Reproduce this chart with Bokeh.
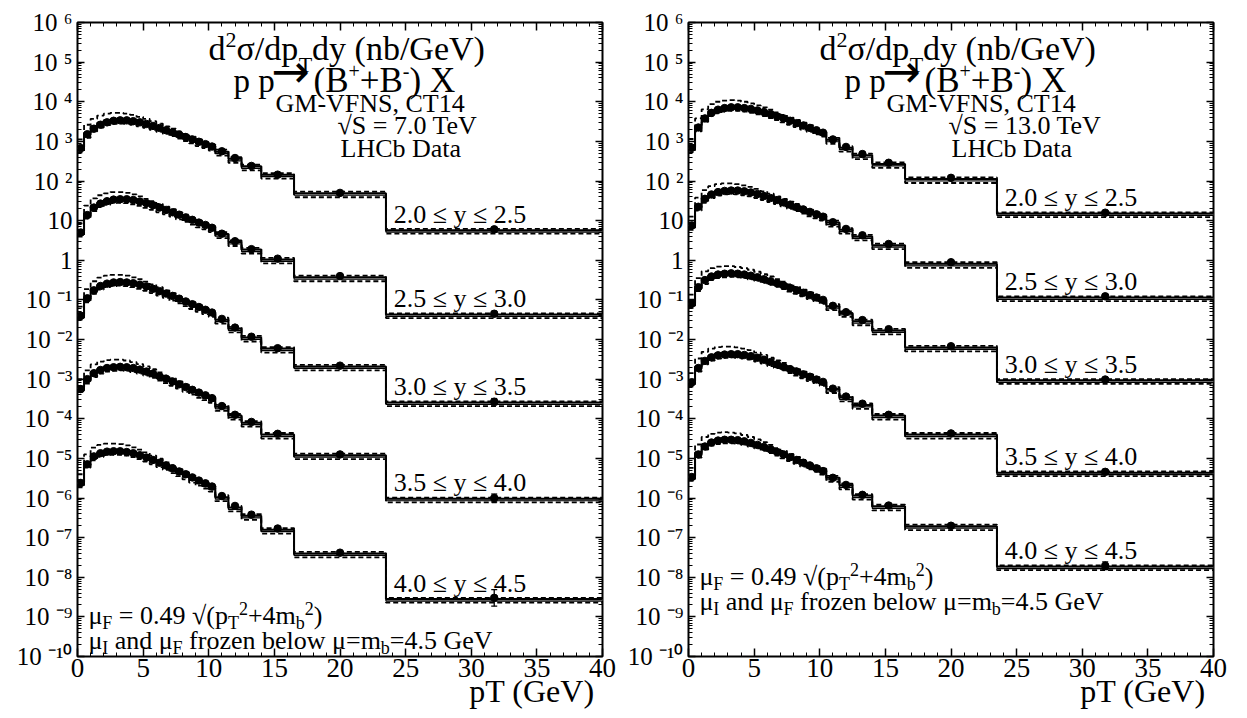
import numpy as np
from bokeh.plotting import figure
from bokeh.layouts import row
from bokeh.models import (FixedTicker, SingleIntervalTicker, LinearAxis, LogAxis, Label,
                          CustomJSTickFormatter, Whisker, TeeHead, ColumnDataSource)
from bokeh.embed import file_html
from bokeh.resources import INLINE

# ---------------- data ----------------
pt_edges = [0.0, 0.5, 1.0, 1.5, 2.0, 2.5, 3.0, 3.5, 4.0, 4.5, 5.0, 5.5, 6.0, 6.5, 7.0, 7.5,
            8.0, 8.5, 9.0, 9.5, 10.0, 10.5, 11.5, 12.5, 14.0, 16.5, 23.5, 40.0]
pt_points = [0.25, 0.75, 1.25, 1.75, 2.25, 2.75, 3.25, 3.75, 4.25, 4.75, 5.25, 5.75, 6.25, 6.75,
             7.25, 7.75, 8.25, 8.75, 9.25, 9.75, 10.25, 11.0, 12.0, 13.25, 15.25, 20.0, 31.75]
y_bins = ["2.0 ≤  y ≤ 2.5", "2.5 ≤  y ≤ 3.0", "3.0 ≤  y ≤ 3.5", "3.5 ≤  y ≤ 4.0", "4.0 ≤  y ≤ 4.5"]

# log10 of d2sigma/dpT dy (nb/GeV), each rapidity bin already offset by 10^-2 steps
th7_y20 = [2.85, 3.22, 3.38, 3.47, 3.53, 3.56, 3.57, 3.56, 3.54, 3.50, 3.46, 3.41, 3.36, 3.30,
           3.24, 3.18, 3.12, 3.06, 2.99, 2.93, 2.87, 2.74, 2.56, 2.37, 2.16, 1.69, 0.76]
th7_y25 = [0.73, 1.18, 1.37, 1.46, 1.52, 1.56, 1.57, 1.56, 1.53, 1.49, 1.44, 1.39, 1.33, 1.27,
           1.21, 1.14, 1.08, 1.01, 0.94, 0.88, 0.81, 0.66, 0.46, 0.27, 0.02, -0.43, -1.37]
th7_y30 = [-1.37, -0.93, -0.72, -0.62, -0.56, -0.53, -0.52, -0.53, -0.56, -0.60, -0.65, -0.71,
           -0.77, -0.84, -0.91, -0.98, -1.05, -1.12, -1.19, -1.26, -1.33, -1.50, -1.72, -1.95,
           -2.23, -2.68, -3.59]
th7_y35 = [-3.20, -2.98, -2.82, -2.74, -2.69, -2.67, -2.66, -2.67, -2.70, -2.74, -2.79, -2.85,
           -2.92, -2.99, -3.06, -3.13, -3.21, -3.28, -3.36, -3.43, -3.50, -3.70, -3.92, -4.10,
           -4.40, -4.92, -6.02]
th7_y40 = [-5.60, -5.10, -4.92, -4.84, -4.80, -4.79, -4.79, -4.81, -4.85, -4.90, -4.96, -5.03,
           -5.10, -5.18, -5.26, -5.34, -5.42, -5.50, -5.58, -5.66, -5.74, -5.98, -6.24, -6.45,
           -6.80, -7.40, -8.55]
dat7_y20 = [2.83, 3.18, 3.32, 3.42, 3.48, 3.52, 3.53, 3.53, 3.51, 3.48, 3.44, 3.39, 3.34, 3.28,
            3.23, 3.17, 3.11, 3.05, 2.99, 2.93, 2.87, 2.75, 2.58, 2.38, 2.16, 1.70, 0.78]
dat7_y25 = [0.70, 1.14, 1.33, 1.43, 1.49, 1.53, 1.54, 1.54, 1.52, 1.48, 1.44, 1.39, 1.33, 1.27,
            1.21, 1.15, 1.08, 1.02, 0.95, 0.89, 0.82, 0.67, 0.48, 0.28, 0.04, -0.40, -1.35]
dat7_y30 = [-1.40, -0.96, -0.76, -0.65, -0.59, -0.56, -0.55, -0.56, -0.58, -0.62, -0.66, -0.72,
            -0.78, -0.84, -0.90, -0.97, -1.04, -1.11, -1.18, -1.25, -1.32, -1.48, -1.70, -1.93,
            -2.22, -2.66, -3.57]
dat7_y35 = [-3.25, -3.00, -2.85, -2.77, -2.72, -2.70, -2.69, -2.70, -2.72, -2.76, -2.81, -2.86,
            -2.93, -2.99, -3.06, -3.13, -3.20, -3.27, -3.34, -3.41, -3.48, -3.68, -3.90, -4.08,
            -4.38, -4.90, -6.00]
dat7_y40 = [-5.62, -5.15, -4.95, -4.87, -4.83, -4.82, -4.82, -4.84, -4.87, -4.92, -4.98, -5.04,
            -5.11, -5.18, -5.25, -5.33, -5.40, -5.48, -5.56, -5.63, -5.71, -5.95, -6.20, -6.42,
            -6.77, -7.38, -8.52]
th13_y20 = [2.86, 3.38, 3.62, 3.76, 3.83, 3.87, 3.89, 3.89, 3.87, 3.84, 3.80, 3.76, 3.71, 3.65,
            3.59, 3.53, 3.47, 3.41, 3.35, 3.28, 3.22, 3.04, 2.84, 2.65, 2.43, 2.05, 1.18]
th13_y25 = [0.90, 1.38, 1.58, 1.69, 1.75, 1.78, 1.79, 1.78, 1.76, 1.73, 1.69, 1.64, 1.59, 1.53,
            1.47, 1.41, 1.35, 1.29, 1.22, 1.16, 1.10, 0.95, 0.77, 0.60, 0.38, -0.09, -0.94]
th13_y30 = [-1.07, -0.65, -0.47, -0.38, -0.33, -0.31, -0.30, -0.31, -0.33, -0.36, -0.40, -0.45,
            -0.50, -0.56, -0.62, -0.68, -0.74, -0.80, -0.87, -0.93, -1.00, -1.16, -1.33, -1.54,
            -1.77, -2.20, -3.03]
th13_y35 = [-3.05, -2.68, -2.50, -2.41, -2.36, -2.34, -2.33, -2.34, -2.36, -2.39, -2.44, -2.49,
            -2.55, -2.61, -2.67, -2.74, -2.80, -2.87, -2.94, -3.00, -3.07, -3.25, -3.46, -3.65,
            -3.92, -4.40, -5.36]
th13_y40 = [-5.44, -4.85, -4.65, -4.56, -4.52, -4.50, -4.50, -4.51, -4.54, -4.58, -4.63, -4.69,
            -4.75, -4.82, -4.89, -4.96, -5.03, -5.10, -5.17, -5.24, -5.31, -5.49, -5.68, -5.94,
            -6.21, -6.71, -7.73]
dat13_y20 = [2.84, 3.35, 3.58, 3.72, 3.80, 3.84, 3.86, 3.86, 3.84, 3.82, 3.78, 3.74, 3.69, 3.63,
             3.58, 3.52, 3.46, 3.40, 3.34, 3.28, 3.22, 3.05, 2.86, 2.68, 2.46, 2.08, 1.20]
dat13_y25 = [0.88, 1.35, 1.55, 1.66, 1.72, 1.75, 1.76, 1.76, 1.74, 1.71, 1.67, 1.62, 1.57, 1.52,
             1.46, 1.40, 1.34, 1.28, 1.22, 1.16, 1.10, 0.96, 0.79, 0.63, 0.41, -0.05, -0.91]
dat13_y30 = [-1.09, -0.68, -0.50, -0.41, -0.36, -0.34, -0.33, -0.34, -0.36, -0.39, -0.43, -0.48,
             -0.53, -0.58, -0.64, -0.70, -0.76, -0.82, -0.88, -0.94, -1.00, -1.15, -1.31, -1.51,
             -1.74, -2.17, -3.01]
dat13_y35 = [-3.08, -2.72, -2.54, -2.45, -2.40, -2.38, -2.37, -2.37, -2.39, -2.42, -2.46, -2.51,
             -2.57, -2.63, -2.69, -2.75, -2.81, -2.88, -2.94, -3.01, -3.07, -3.24, -3.44, -3.62,
             -3.90, -4.37, -5.34]
dat13_y40 = [-5.47, -4.90, -4.70, -4.60, -4.55, -4.53, -4.53, -4.54, -4.57, -4.61, -4.66, -4.71,
             -4.77, -4.84, -4.90, -4.97, -5.04, -5.11, -5.18, -5.25, -5.32, -5.49, -5.67, -5.92,
             -6.19, -6.70, -7.71]

err_dex = [0.06, 0.04, 0.03, 0.03, 0.03, 0.03, 0.03, 0.03, 0.03, 0.03, 0.03, 0.03, 0.03, 0.03,
           0.03, 0.03, 0.03, 0.03, 0.03, 0.03, 0.03, 0.03, 0.03, 0.03, 0.03, 0.04, 0.05]
err7_last = [0.05, 0.06, 0.08, 0.10, 0.21]
err13_last = [0.04, 0.05, 0.05, 0.06, 0.10]
scale_up_dex = [0.20, 0.20, 0.19, 0.18, 0.17, 0.16, 0.15, 0.14, 0.13, 0.12, 0.11, 0.10, 0.09, 0.08,
                0.08, 0.07, 0.07, 0.06, 0.06, 0.05, 0.05, 0.05, 0.04, 0.04, 0.04, 0.04, 0.03]
scale_dn_dex = [0.13, 0.13, 0.13, 0.12, 0.12, 0.12, 0.12, 0.12, 0.12, 0.12, 0.12, 0.12, 0.12, 0.11,
                0.11, 0.11, 0.11, 0.11, 0.11, 0.10, 0.10, 0.10, 0.10, 0.10, 0.10, 0.10, 0.09]
pdf_dn_dex = [0.05, 0.05, 0.05, 0.05, 0.05, 0.05, 0.05, 0.05, 0.05, 0.05, 0.05, 0.05, 0.05, 0.05,
              0.05, 0.05, 0.05, 0.05, 0.05, 0.05, 0.05, 0.05, 0.05, 0.05, 0.05, 0.05, 0.05]

# ---------------- layout helpers ----------------
FONT = "Liberation Serif"
FW, FH = 525, 634
YMIN_EXP, YMAX_EXP = -10, 6
NDEC = YMAX_EXP - YMIN_EXP
BASE_FIX = 0.30   # measured shift of rendered baseline, in em

TW = {' ': .25, '(': .333, ')': .333, '/': .278, '.': .25, ',': .25, '-': .333, '+': .564,
      '=': .564, '≤': .549, '√': .549, 'σ': .55, 'μ': .53, '→': 0.84,
      'A': .722, 'B': .667, 'C': .667, 'D': .722, 'E': .611, 'F': .556, 'G': .722, 'H': .722,
      'I': .333, 'L': .611, 'M': .889, 'N': .722, 'S': .556, 'T': .611, 'V': .722, 'X': .722,
      'a': .444, 'b': .5, 'c': .444, 'd': .5, 'e': .444, 'f': .333, 'g': .5, 'h': .5, 'i': .278,
      'l': .278, 'm': .778, 'n': .5, 'o': .5, 'p': .5, 'r': .333, 's': .389, 't': .278, 'u': .5,
      'v': .5, 'w': .722, 'y': .5, 'z': .444}


def tw(s):
    return sum(TW.get(c, 0.5) for c in s)


def xdat(fx):
    return fx * 40.0 / FW


def ydat(fy):
    return 10 ** (YMAX_EXP - fy * NDEC / FH)


def label(p, x, y, text, size, align="left", font=FONT):
    y = y * 10 ** (BASE_FIX * size * NDEC / FH)
    p.add_layout(Label(x=x, y=y, text=text, text_font=font, text_font_size=f"{size}px",
                       text_color="black", text_align=align, text_baseline="alphabetic"))


def pieces(p, fx, fy, parts, font=FONT):
    x = fx
    for txt, size, dy in parts:
        lead = len(txt) - len(txt.lstrip(' '))
        label(p, xdat(x + lead * 0.25 * size), ydat(fy + dy), txt.strip(), size, font=font)
        x += tw(txt) * size


YFMT = """
const sup = {"-": "\u207b", "0": "\u2070", "1": "\u00b9", "2": "\u00b2", "3": "\u00b3",
             "4": "\u2074", "5": "\u2075", "6": "\u2076", "7": "\u2077", "8": "\u2078", "9": "\u2079"};
const k = Math.round(Math.log10(tick));
if (k === 0) { return "1"; }
if (k === 1) { return "10"; }
let s = "";
for (const c of String(k)) { s += sup[c]; }
return "10 " + s;
"""

XTITLE = "pT (GeV)"


def make_panel(th, dat, err_last, energy, note_fy, border_left, border_right):
    p = figure(frame_width=FW, frame_height=FH, x_range=(0, 40),
               y_range=(10.0 ** YMIN_EXP, 10.0 ** YMAX_EXP), y_axis_type="log",
               output_backend="svg", toolbar_location=None,
               min_border_left=border_left, min_border_right=border_right,
               min_border_top=22, min_border_bottom=50)
    p.grid.visible = False
    p.outline_line_color = "black"
    p.outline_line_width = 2
    p.background_fill_color = "white"
    p.border_fill_color = "white"

    xt = SingleIntervalTicker(interval=5, num_minor_ticks=5)
    yt = FixedTicker(ticks=[10.0 ** k for k in range(YMIN_EXP, YMAX_EXP + 1)],
                     minor_ticks=[m * 10.0 ** k for k in range(YMIN_EXP, YMAX_EXP) for m in range(2, 10)])
    blank = CustomJSTickFormatter(code="return ''")

    xa = p.xaxis[0]
    xa.ticker = xt
    xa.axis_line_color = None
    xa.major_tick_in, xa.major_tick_out = 8, 0
    xa.minor_tick_in, xa.minor_tick_out = 4, 0
    xa.major_tick_line_width = 1.5
    xa.major_tick_line_color = "black"
    xa.minor_tick_line_color = "black"
    xa.major_label_text_font = FONT
    xa.major_label_text_font_size = "27px"
    xa.major_label_text_color = "black"
    xa.major_label_standoff = 2
    xa.axis_label = "\u00a0" * 48 + XTITLE
    xa.axis_label_align = "center"
    xa.axis_label_text_font = FONT
    xa.axis_label_text_font_size = "32px"
    xa.axis_label_text_font_style = "normal"
    xa.axis_label_text_color = "black"
    xa.axis_label_standoff = -7

    ya = p.yaxis[0]
    ya.ticker = yt
    ya.formatter = CustomJSTickFormatter(code=YFMT)
    ya.axis_line_color = None
    ya.major_tick_in, ya.major_tick_out = 7, 0
    ya.minor_tick_in, ya.minor_tick_out = 4, 0
    ya.major_tick_line_width = 1.5
    ya.major_tick_line_color = "black"
    ya.minor_tick_line_color = "black"
    ya.major_label_text_font = FONT
    ya.major_label_text_font_size = "25px"
    ya.major_label_text_color = "black"
    ya.major_label_standoff = 5

    top = LinearAxis(ticker=xt, formatter=blank, axis_line_color=None,
                     major_tick_in=8, major_tick_out=0, minor_tick_in=4, minor_tick_out=0,
                     major_tick_line_width=1.5, major_tick_line_color="black",
                     minor_tick_line_color="black", major_label_text_font_size="0px")
    p.add_layout(top, "above")
    right = LogAxis(ticker=yt, formatter=blank, axis_line_color=None,
                    major_tick_in=7, major_tick_out=0, minor_tick_in=4, minor_tick_out=0,
                    major_tick_line_width=1.5, major_tick_line_color="black",
                    minor_tick_line_color="black", major_label_text_font_size="0px")
    p.add_layout(right, "right")

    def ext(a):
        return list(a) + [a[-1]]

    for i in range(5):
        c_log = np.array(th[i])
        cen = 10 ** c_log
        up = 10 ** (c_log + np.array(scale_up_dex))
        dn = 10 ** (c_log - np.array(scale_dn_dex))
        lo = 10 ** (c_log - np.array(pdf_dn_dex))
        p.varea_step(x=pt_edges, y1=ext(lo), y2=ext(cen), step_mode="after",
                     fill_color="#b4b4b4", fill_alpha=1.0)
        p.step(pt_edges, ext(up), mode="after", line_dash="5 3", line_width=1.8, line_color="black")
        p.step(pt_edges, ext(dn), mode="after", line_dash="5 3", line_width=1.8, line_color="black")
        p.step(pt_edges, ext(lo), mode="after", line_width=1.2, line_color="black")
        p.step(pt_edges, ext(cen), mode="after", line_width=2.0, line_color="black")

        d = 10 ** np.array(dat[i])
        e = np.array(err_dex, dtype=float)
        e[-1] = err_last[i]
        src = ColumnDataSource(dict(x=pt_points, y=d, upper=d * 10 ** e, lower=d / 10 ** e))
        p.add_layout(Whisker(source=src, base="x", upper="upper", lower="lower",
                             line_color="black", line_width=1.3,
                             upper_head=TeeHead(size=6, line_width=1.3, line_color="black"),
                             lower_head=TeeHead(size=6, line_width=1.3, line_color="black")))
        p.scatter("x", "y", source=src, size=7.5, color="black")

        # rapidity label, a few px above the last bin
        label(p, 24.1, cen[-1] * 10 ** (8 * NDEC / FH), y_bins[i], 26)

    # header texts
    pieces(p, 131, 36, [("d", 34, 0), ("2", 22, -12), ("σ/dp", 34, 0), ("T", 22, 13),
                        ("dy (nb/GeV)", 34, 0)])
    pieces(p, 156, 68, [("p p", 33, 0)])
    pieces(p, 194, 62, [("→", 46, 0)], font="DejaVu Sans")
    pieces(p, 236, 68, [("(B", 35, 0), ("+", 20, -14), ("+B", 35, 0), ("-", 20, -14),
                        (") X", 35, 0)])
    pieces(p, 198, 89, [("GM-VFNS, CT14", 26, 0)])
    pieces(p, 260, 111, [(energy, 26, 0)])
    pieces(p, 263, 134, [("LHCb Data", 26, 0)])

    # scale notes
    pieces(p, 11, note_fy[0], [("μ", 26, 0), ("F", 18, 5), (" = 0.49 √(p", 26, 0), ("T", 18, 5),
                               ("2", 18, -10), ("+4m", 26, 0), ("b", 18, 5), ("2", 18, -10),
                               (")", 26, 0)])
    pieces(p, 11, note_fy[1], [("μ", 26, 0), ("I", 18, 5), (" and ", 26, 0), ("μ", 26, 0),
                               ("F", 18, 5), (" frozen below μ=m", 26, 0), ("b", 18, 5),
                               ("=4.5 GeV", 26, 0)])
    return p


p7 = make_panel([th7_y20, th7_y25, th7_y30, th7_y35, th7_y40],
                [dat7_y20, dat7_y25, dat7_y30, dat7_y35, dat7_y40],
                err7_last, "√S = 7.0 TeV", (601, 626), 77, 17)
p13 = make_panel([th13_y20, th13_y25, th13_y30, th13_y35, th13_y40],
                 [dat13_y20, dat13_y25, dat13_y30, dat13_y35, dat13_y40],
                 err13_last, "√S = 13.0 TeV", (562, 587), 69, 20)

layout = row(p7, p13)
open("out.html", "w").write(file_html(layout, INLINE))
